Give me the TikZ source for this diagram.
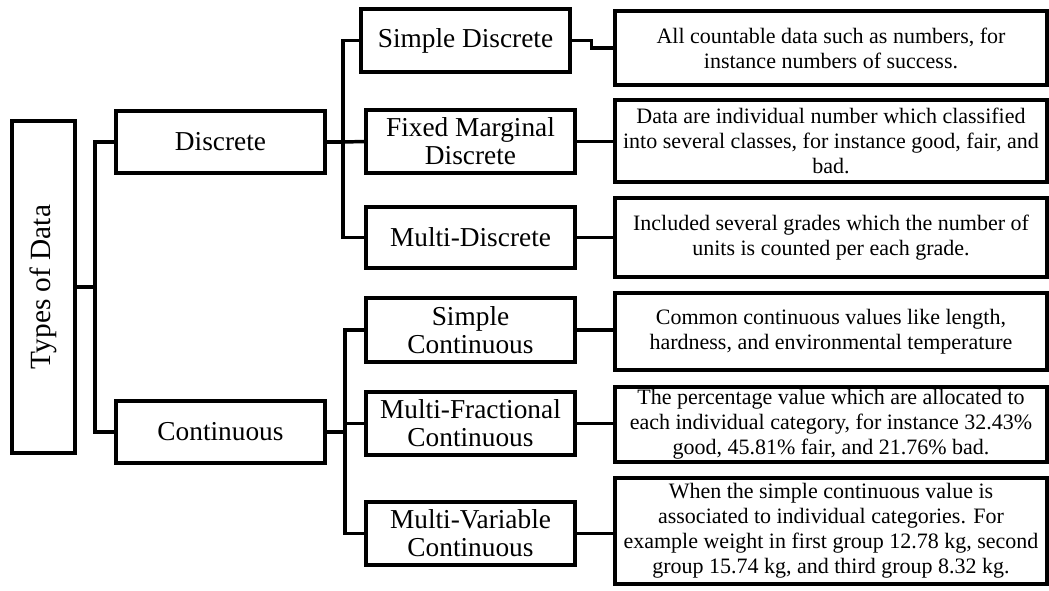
\documentclass[tikz,border=0pt]{standalone}
\usepackage{fontspec}
\setmainfont{Liberation Serif}
\usepackage{tikz}
\usetikzlibrary{positioning, calc}
\tikzset{
	rootbox/.style ={rectangle, draw=black, line width=2.4pt, minimum width=63*0.75pt, minimum height=332*0.75pt, inner sep=0pt, font=\fontsize{22}{24}\selectfont},
	typebox/.style ={rectangle, draw=black, line width=2.4pt, minimum width=209*0.75pt, align=center, inner sep=0pt, font=\fontsize{20.5}{21}\selectfont},
	descbox/.style ={rectangle, draw=black, line width=2.4pt, minimum width=432*0.75pt, align=center, inner sep=0pt, font=\fontsize{16.5}{18.8}\selectfont},
	link/.style     ={draw=black, line width=2.6pt},
}

\begin{document}
\begin{tikzpicture}[x=0.75pt, y=-0.75pt]
	\useasboundingbox (0,0) rectangle (1049,590);
	% root
	\node[rootbox] (root) at (43.5,287) {\rotatebox{90}{Types of Data}};
	% first level
	\node[typebox, minimum height=62*0.75pt] (disc) at (220.5,142) {Discrete};
	\node[typebox, minimum height=62*0.75pt] (cont) at (220.5,432) {Continuous};
	% second level
	\node[typebox, minimum height=63*0.75pt] (sd)  at (465.5,40.5)  {Simple Discrete};
	\node[typebox, minimum height=63*0.75pt] (fmd) at (470.5,141.5) {Fixed Marginal\\Discrete};
	\node[typebox, minimum height=61*0.75pt] (md)  at (470.5,237.5) {Multi-Discrete};
	\node[typebox, minimum height=64*0.75pt] (sc)  at (470.5,330)   {Simple\\Continuous};
	\node[typebox, minimum height=63*0.75pt] (mfc) at (470.5,423.5) {Multi-Fractional\\Continuous};
	\node[typebox, minimum height=63*0.75pt] (mvc) at (470.5,533.5) {Multi-Variable\\Continuous};
	% descriptions
	\node[descbox, minimum height=74*0.75pt]  (d1) at (831,48)    {All countable data such as numbers, for\\instance numbers of success.};
	\node[descbox, minimum height=82*0.75pt]  (d2) at (831,141)   {Data are individual number which classified\\into several classes, for instance good, fair, and\\bad.};
	\node[descbox, minimum height=79*0.75pt]  (d3) at (831,237.5) {Included several grades which the number of\\units is counted per each grade.};
	\node[descbox, minimum height=77*0.75pt]  (d4) at (831,331.5) {Common continuous values like length,\\hardness, and environmental temperature};
	\node[descbox, minimum height=75*0.75pt]  (d5) at (831,424.5) {The percentage value which are allocated to\\each individual category, for instance 32.43\%\\good, 45.81\% fair, and 21.76\% bad.};
	\node[descbox, minimum height=106*0.75pt] (d6) at (831,531)   {When the simple continuous value is\\associated to individual categories. For\\example weight in first group 12.78 kg, second\\group 15.74 kg, and third group 8.32 kg.};

	% junctions
	\coordinate (rj) at (95,287);
	\coordinate (dj) at (343,142);
	\coordinate (cj) at (345,432);

	\draw[link] (root.east) -- (rj);
	\draw[link] (disc.west) -| (rj) |- (cont.west);
	\draw[link] (disc.east) -- (dj);
	\draw[link] (sd.west) -| (dj) |- (md.west);
	\draw[link] (dj) -- (fmd.west);
	\draw[link] (cont.east) -- (cj);
	\draw[link] (sc.west) -| (cj) |- (mvc.west);
	\draw[link] (cj |- mfc.west) -- (mfc.west);

	\draw[link] (sd.east) -- ++(20,0) |- (d1.west);
	\foreach \a/\b in {fmd/d2, md/d3, sc/d4, mfc/d5, mvc/d6}
		\draw[link] (\a.east) -- (\a.east -| \b.west);
\end{tikzpicture}
\end{document}
